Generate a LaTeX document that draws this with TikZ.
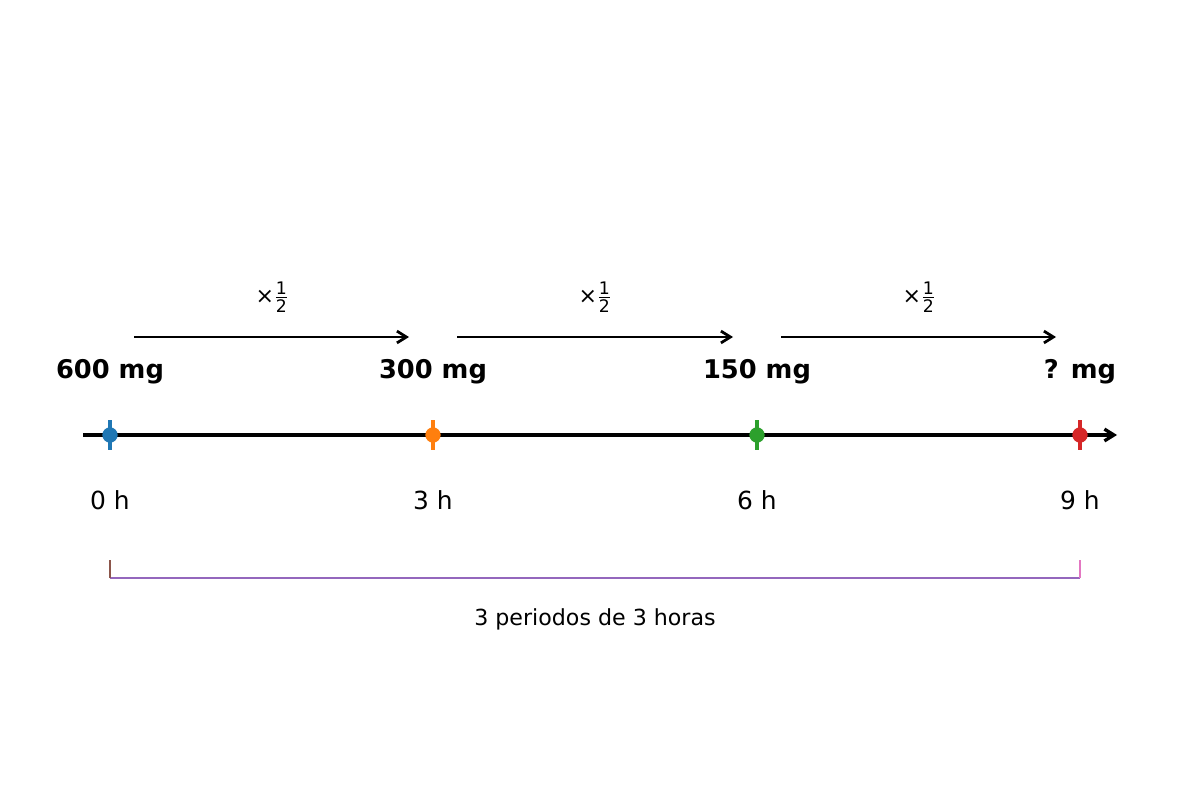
\documentclass[tikz,border=0pt]{standalone}
\usepackage{amsmath}
\usepackage{fontspec}
\setmainfont{DejaVu Sans}
\usetikzlibrary{arrows.meta,positioning}

\definecolor{c0}{HTML}{1F77B4}
\definecolor{c1}{HTML}{FF7F0E}
\definecolor{c2}{HTML}{2CA02C}
\definecolor{c3}{HTML}{D62728}
\definecolor{c4}{HTML}{9467BD}
\definecolor{c5}{HTML}{8C564B}
\definecolor{c6}{HTML}{E377C2}

\newcommand{\halfdigit}[1]{\text{\fontsize{12.5}{12}\selectfont #1}}
\newcommand{\timeshalf}{×$\frac{\halfdigit{1}}{\halfdigit{2}}$}

\tikzset{
  dot/.style={circle,inner sep=0pt,minimum size=3.9mm},
  tickmark/.style={line width=2.2pt},
  dose/.style={font=\fontsize{18.6}{20}\selectfont\bfseries},
  hour/.style={font=\fontsize{18}{20}\selectfont},
  factor/.style={font=\fontsize{16}{18}\selectfont},
  halve/.style={-{Straight Barb[length=2.4mm,width=3mm,line width=2pt]},line width=2pt},
}

\begin{document}
\begin{tikzpicture}[x=0.254mm,y=-0.254mm]
\useasboundingbox (0,0) rectangle (1200,800);
% time axis
\coordinate (ax_s) at (83,435);
\coordinate (ax_e) at (1117,435);
\draw[line width=2.7pt,-{Straight Barb[length=2.4mm,width=3mm,line width=2.4pt]}] (ax_s) -- (ax_e);
\draw[c0,tickmark] (110,420) -- (110,450);
\draw[c1,tickmark] (433,420) -- (433,450);
\draw[c2,tickmark] (757,420) -- (757,450);
\draw[c3,tickmark] (1080,420) -- (1080,450);
\node[dot,fill=c0] (p_0) at (110,435) {};
\node[dot,fill=c1] (p_3) at (433,435) {};
\node[dot,fill=c2] (p_6) at (757,435) {};
\node[dot,fill=c3] (p_9) at (1080,435) {};
% doses
\node[dose] (d_0) at (110,372) {600 mg};
\node[dose] (d_3) at (433,372) {300 mg};
\node[dose] (d_6) at (757,372) {150 mg};
\node[dose] (d_9) at (1080,372) {? mg};
% hours
\node[hour] (h_0) at (110,500) {0 h};
\node[hour] (h_3) at (433,500) {3 h};
\node[hour] (h_6) at (757,500) {6 h};
\node[hour] (h_9) at (1080,500) {9 h};
% halving steps
\coordinate (a_1s) at (134,337); \coordinate (a_1e) at (409,337);
\coordinate (a_2s) at (457,337); \coordinate (a_2e) at (733,337);
\coordinate (a_3s) at (781,337); \coordinate (a_3e) at (1056,337);
\path[halve]
(a_1s) edge (a_1e)
(a_2s) edge (a_2e)
(a_3s) edge (a_3e);
\node[factor] (f_1) at (272,297) {\timeshalf};
\node[factor] (f_2) at (595,297) {\timeshalf};
\node[factor] (f_3) at (919,297) {\timeshalf};
% bracket
\coordinate (b_l) at (110,578); \coordinate (b_r) at (1080,578);
\coordinate (b_lt) at (110,560); \coordinate (b_rt) at (1080,560);
\draw[c4,line width=1.5pt] (b_l) -- (b_r);
\draw[c5,line width=1.5pt] (b_l) -- (b_lt);
\draw[c6,line width=1.5pt] (b_r) -- (b_rt);
\node[factor] (span) at (595,619) {3 periodos de 3 horas};
\end{tikzpicture}
\end{document}
